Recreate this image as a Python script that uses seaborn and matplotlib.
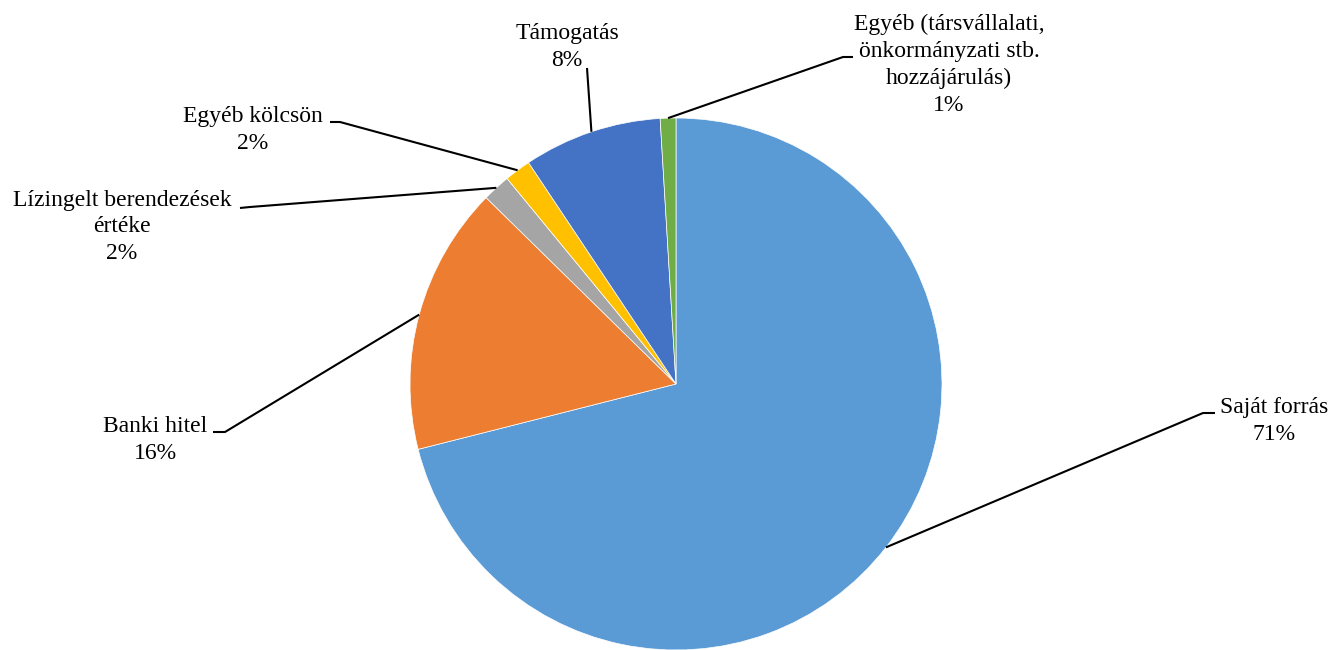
import matplotlib
matplotlib.use("Agg")
import numpy as np
import matplotlib.pyplot as plt
import seaborn as sns

# data (shares in %, pie goes clockwise from 12 o'clock)
categories = [
    "Saját forrás",
    "Banki hitel",
    "Lízingelt berendezések\nértéke",
    "Egyéb kölcsön",
    "Támogatás",
    "Egyéb (társvállalati,\nönkormányzati stb.\nhozzájárulás)",
]
shares = [71.05, 16.3, 1.7, 1.6, 8.4, 0.95]
colors = ["#5B9BD5", "#ED7D31", "#A5A5A5", "#FFC000", "#4472C4", "#70AD47"]

# label placement in image pixels: text centre and elbow points of the leader
label_pos = [(1274, 421), (155, 440), (122, 227), (253, 130), (567, 47), (949, 65)]
elbows = [
    [(1215, 413), (1203, 413)],
    [(213, 432), (225, 432)],
    [(240, 208), (250, 207)],
    [(330, 122), (340, 122)],
    [(587, 68)],
    [(853, 57), (843, 57)],
]

W, H = 1332, 650
CX, CY, R = 676, 384, 266


def px(x, y):
    return (x - CX) / R, (CY - y) / R


def main():
    sns.set_theme(style="white")
    plt.rcParams["font.family"] = ["Liberation Serif", "DejaVu Serif"]

    fig = plt.figure(figsize=(W / 100, H / 100), dpi=100)
    ax = fig.add_axes([0, 0, 1, 1])

    wedges, _ = ax.pie(
        shares,
        colors=sns.color_palette(colors),
        startangle=90,
        counterclock=False,
        radius=1,
        wedgeprops=dict(edgecolor="white", linewidth=0.5),
    )

    total = sum(shares)
    for w, name, val, pos, elb in zip(wedges, categories, shares, label_pos, elbows):
        mid = np.deg2rad((w.theta1 + w.theta2) / 2)
        end = (np.cos(mid), np.sin(mid))
        pts = [px(*p) for p in elb] + [end]
        xs, ys = zip(*pts)
        ax.plot(xs, ys, color="black", lw=1.5, solid_capstyle="butt", zorder=3)
        tx, ty = px(*pos)
        ax.text(tx, ty, f"{name}\n{round(val / total * 100)}%",
                ha="center", va="center", multialignment="center",
                fontsize=17, linespacing=1.36, color="black")

    ax.set_xlim(-CX / R, (W - CX) / R)
    ax.set_ylim(-(H - CY) / R, CY / R)
    ax.axis("off")
    fig.savefig("out.png", dpi=100)


if __name__ == "__main__":
    main()
